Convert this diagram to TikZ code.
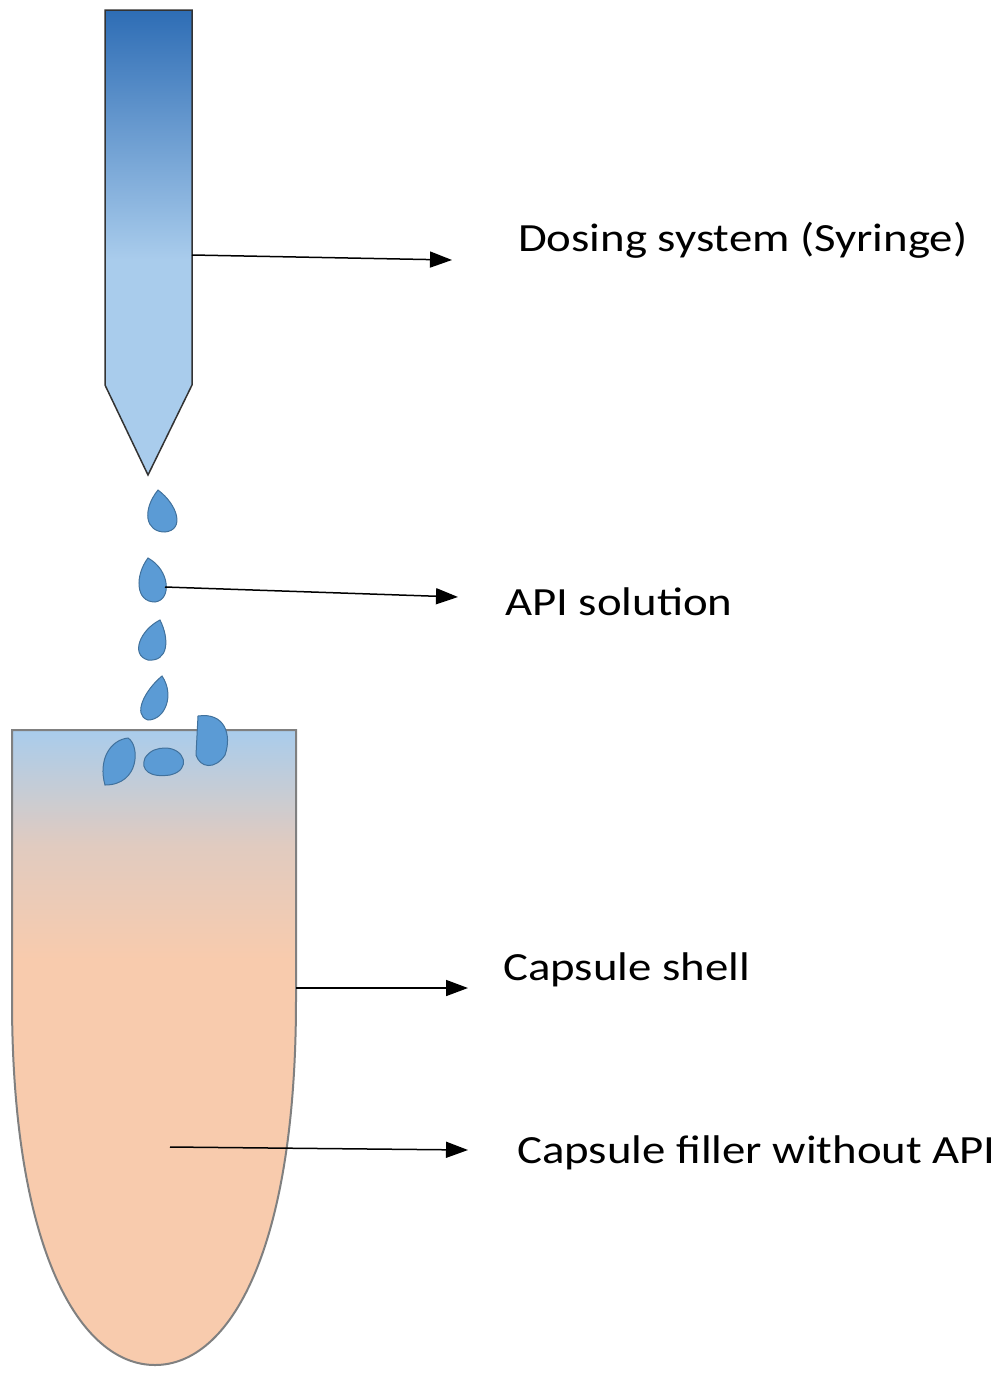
\documentclass[tikz,border=0pt]{standalone}
\usepackage{fontspec}
\setmainfont{Carlito}
\usetikzlibrary{arrows.meta}
\definecolor{dropF}{HTML}{5B9BD5}
\definecolor{dropD}{HTML}{41719C}
\definecolor{peach}{HTML}{F8CBAD}
\definecolor{lblue}{HTML}{A9CCEC}
\definecolor{dblue}{HTML}{2E6DB5}
\newcommand{\wid}[1]{\scalebox{1.17}[1]{#1}}
\tikzset{
 lab/.style={anchor=west,font=\fontsize{40}{42}\selectfont,inner sep=0},
 arr/.style={-{Triangle[length=22pt,width=16pt]},line width=1.5pt},
 drop/.style={fill=dropF,draw=dropD,line width=1pt}
}
\begin{document}
\begin{tikzpicture}[x=1pt,y=-1pt]
\useasboundingbox (0,0) rectangle (999,1384);
% syringe
\shade[top color=dblue,bottom color=lblue]
  (105,10) rectangle (192,260);
\fill[lblue] (105,259) -- (192,259) -- (192,385) -- (148,475) -- (105,385) -- cycle;
\draw[line width=1.5pt,black!80] (105,10) -- (192,10) -- (192,385) -- (148,475) -- (105,385) -- cycle;
\coordinate (syr) at (192,255);
\node[lab] (tsyr) at (518,240) {\wid{Dosing system (Syringe)}};
\coordinate (syrE) at (452,260);
\draw[arr] (syr) -- (syrE);
% capsule
\path[fill=peach] (12,730) -- (12,1000) .. controls (12,1250) and (80,1365) .. (155,1365) .. controls (230,1365) and (296,1250) .. (296,1000) -- (296,730) -- cycle;
\begin{scope}
\clip (12,730) rectangle (296,960);
\shade[top color=lblue,bottom color=peach,middle color=peach!70!lblue] (12,730) rectangle (296,960);
\end{scope}
\draw[line width=2pt,gray] (12,730) -- (12,1000) .. controls (12,1250) and (80,1365) .. (155,1365) .. controls (230,1365) and (296,1250) .. (296,1000) -- (296,730) -- cycle;
% droplets
\draw[drop] (158,490) .. controls (178,505) and (185,530) .. (165,532) .. controls (145,532) and (142,510) .. (158,490) -- cycle;
\draw[drop] (148,558) .. controls (170,570) and (172,600) .. (155,602) .. controls (135,602) and (135,575) .. (148,558) -- cycle;
\draw[drop] (160,620) .. controls (170,640) and (168,662) .. (148,660) .. controls (130,655) and (140,630) .. (160,620) -- cycle;
\draw[drop] (162,676) .. controls (175,695) and (165,720) .. (148,720) .. controls (132,715) and (145,690) .. (162,676) -- cycle;
\draw[drop] (128,738) .. controls (140,745) and (140,785) .. (105,785) .. controls (98,760) and (110,740) .. (128,738) -- cycle;
\draw[drop] (165,748) .. controls (185,748) and (192,770) .. (170,775) .. controls (150,778) and (140,770) .. (145,758) .. controls (150,750) and (158,748) .. (165,748) -- cycle;
\draw[drop] (198,716) .. controls (225,712) and (232,735) .. (225,755) .. controls (215,770) and (200,768) .. (196,755) -- cycle;
\coordinate (api) at (165,587);
\coordinate (apiE) at (458,597);
\node[lab] (tapi) at (505,602) {\wid{API solution}};
\draw[arr] (api) -- (apiE);
% capsule shell
\coordinate (shell) at (296,988);
\coordinate (shellE) at (468,988);
\node[lab] (tshell) at (503,970) {\wid{Capsule shell}};
\draw[arr] (shell) -- (shellE);
% filler
\coordinate (fill) at (170,1147);
\coordinate (fillE) at (468,1150);
\node[lab] (tfill) at (517,1153) {\wid{Capsule filler without API}};
\draw[arr] (fill) -- (fillE);
\end{tikzpicture}
\end{document}
